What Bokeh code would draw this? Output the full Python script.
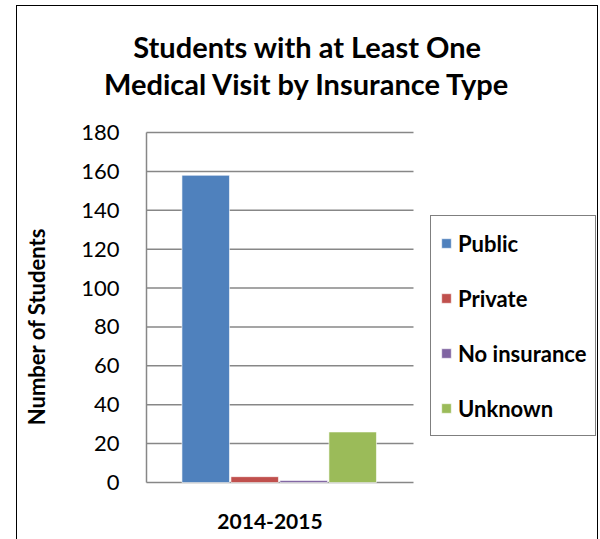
import math
from bokeh.plotting import figure
from bokeh.models import Range1d, Legend, LegendItem, ColumnDataSource
from bokeh.core.properties import value
from bokeh.embed import file_html
from bokeh.resources import INLINE

# ---- data ----
period = "2014-2015"
categories = ["Public", "Private", "No insurance", "Unknown"]
values = [158, 3, 1, 26]
colors = ["#4F81BD", "#C0504D", "#8064A2", "#9BBB59"]
y_ticks = [0, 20, 40, 60, 80, 100, 120, 140, 160, 180]
y_tick_labels = [str(t) for t in y_ticks]
title_lines = ["Students with at Least One", "Medical Visit by Insurance Type"]
y_label = "Number of Students"

FONT = "Lato"

# ---- layout (page pixels) ----
ORG_X, ORG_Y = 16, 5           # figure origin on the page
FIG_W, FIG_H = 582, 534
CH_L, CH_R, CH_T, CH_B = 147, 414, 132, 482   # chart area on the page
Y_MAX = 180
px_x = 1.0 / (CH_R - CH_L)                  # data per pixel, x
px_y = Y_MAX / (CH_B - CH_T)                # data per pixel, y


def dx(page_x):
    return (page_x - CH_L) * px_x


def dy(page_y):
    return (CH_B - page_y) * px_y


p = figure(width=FIG_W, height=FIG_H, output_backend="svg", toolbar_location=None,
           x_range=Range1d(dx(ORG_X + 2), dx(ORG_X + 2 + FIG_W)),
           y_range=Range1d(dy(ORG_Y + 1 + FIG_H), dy(ORG_Y + 1)),
           x_axis_location=None, y_axis_location=None, min_border=0)
p.margin = (ORG_Y, 0, 0, ORG_X)
p.styles = {"border-top": "1.5px solid #000", "border-left": "1.5px solid #000",
            "border-right": "1.5px solid #000"}
p.outline_line_color = None
p.background_fill_color = "white"
p.border_fill_color = "white"
p.xgrid.visible = False
p.ygrid.visible = False

GRID = "#878787"
# gridlines over the chart area
grid_src = ColumnDataSource(dict(y=y_ticks, x0=[0] * len(y_ticks), x1=[1] * len(y_ticks)))
p.segment(x0="x0", x1="x1", y0="y", y1="y", source=grid_src,
          line_color=GRID, line_width=1.5)
# vertical axis line
p.segment(x0=[0], x1=[0], y0=[0], y1=[Y_MAX], line_color=GRID, line_width=1.5)

# tick labels
tick_src = ColumnDataSource(dict(x=[0] * len(y_ticks), y=y_ticks, t=y_tick_labels))
p.text(x="x", y="y", text="t", source=tick_src, x_offset=-27,
       text_align="right", text_baseline="middle",
       text_font=value(FONT), text_font_size="22px", text_color="black")

# bars
step = 0.1835
width = 0.178
n = len(categories)
xs = [0.497 + (i - (n - 1) / 2) * step for i in range(n)]
items = []
for i, (cat, v, c) in enumerate(zip(categories, values, colors)):
    src = ColumnDataSource(dict(x=[xs[i]], top=[v]))
    r = p.vbar(x="x", top="top", bottom=0, width=width, source=src,
               fill_color=c, line_color="white", line_width=0.6)
    items.append(LegendItem(label=cat, renderers=[r]))

# category label
p.text(x=[dx(270.5)], y=[dy(521)], text=[period], text_align="center",
       text_baseline="middle", text_font=value(FONT), text_font_size="21px",
       text_font_style="bold", text_color="black")

# y axis title
p.text(x=[dx(37)], y=[dy(326)], text=[y_label], angle=math.pi / 2,
       text_align="center", text_baseline="middle", text_font=value(FONT),
       text_font_size="22px", text_font_style="bold", text_color="black")

# chart title
p.text(x=[dx(308), dx(308)], y=[dy(46), dy(83)], text=title_lines,
       text_align="center", text_baseline="middle", text_font=value(FONT),
       text_font_size="29px", text_font_style="bold", text_color="black")

# legend (box on the page: x 430..596, y 214..436)
legend = Legend(items=items, location=(430 - ORG_X - 1, ORG_Y + 1 + FIG_H - 436))
legend.border_line_color = "black"
legend.border_line_width = 1.5
legend.background_fill_color = "white"
legend.background_fill_alpha = 1
legend.glyph_width = 12
legend.glyph_height = 12
legend.label_height = 36
legend.spacing = 19
legend.padding = 9
legend.label_standoff = 6
legend.label_text_font = FONT
legend.label_text_font_size = "22px"
legend.label_text_font_style = "bold"
legend.label_text_color = "black"
p.add_layout(legend)

open("out.html", "w").write(file_html(p, INLINE))
